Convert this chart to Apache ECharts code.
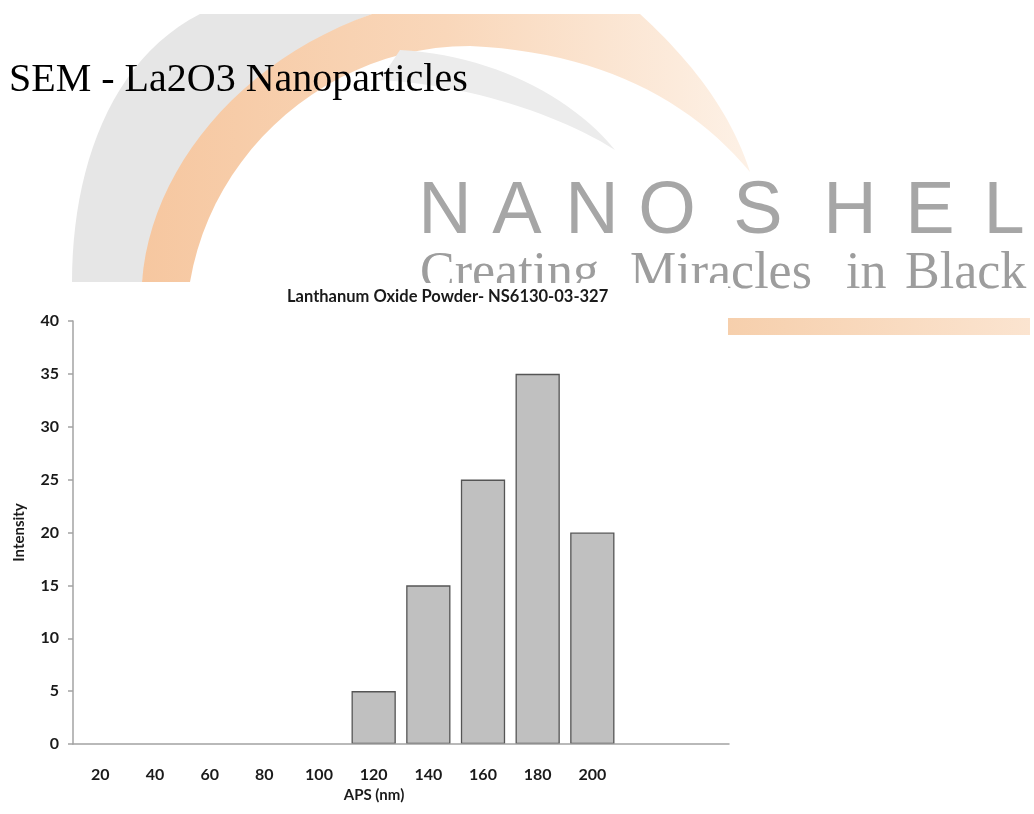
<!DOCTYPE html>
<html>
<head>
<meta charset="utf-8">
<script src="https://cdn.jsdelivr.net/npm/echarts@6/dist/echarts.min.js"></script>
<style>
  html, body { margin: 0; padding: 0; background: #ffffff; }
  #chart { width: 1034px; height: 814px; }
</style>
</head>
<body>
<div id="chart"></div>
<script>
// ---- data ----
const pageTitle = 'SEM - La2O3 Nanoparticles';
const chartTitle = 'Lanthanum Oxide Powder- NS6130-03-327';
const categories = ['20', '40', '60', '80', '100', '120', '140', '160', '180', '200', '', ''];
const intensity = [0, 0, 0, 0, 0, 5, 15, 25, 35, 20];
const xAxisName = 'APS (nm)';
const yAxisName = 'Intensity';
const yMin = 0, yMax = 40, yStep = 5;
const brandLetters = ['N', 'A', 'N', 'O', 'S', 'H', 'E', 'L'];
const taglineWords = ['Creating', 'Miracles', 'in', 'Black'];

// ---- watermark decoration (background) ----
// outline helper: sequence of cubic segments -> polygon points
function outline(start, segs) {
  const pts = [start];
  let p0 = start;
  segs.forEach(s => {
    if (s.length === 1) { pts.push(s[0]); p0 = s[0]; return; }
    const [c1, c2, p3] = s;
    for (let i = 1; i <= 24; i++) {
      const t = i / 24, u = 1 - t;
      pts.push([
        u*u*u*p0[0] + 3*u*u*t*c1[0] + 3*u*t*t*c2[0] + t*t*t*p3[0],
        u*u*u*p0[1] + 3*u*u*t*c1[1] + 3*u*t*t*c2[1] + t*t*t*p3[1]
      ]);
    }
    p0 = p3;
  });
  return pts;
}
const letterCenters = [445, 517, 592, 667, 758, 850, 930, 1004];
const wordLefts = [420, 630, 846, 905];
const bg = [];
bg.push({ type: 'polygon', z: 0, shape: { points: outline([72, 282], [
    [[72, 170], [110, 60], [200, 14]], [[372, 14]], [[250, 60], [160, 160], [142, 282]] ]) },
  style: { fill: '#e6e6e6' } });
bg.push({ type: 'polygon', z: 0, shape: { points: outline([372, 14], [
    [[640, 14]], [[690, 60], [730, 110], [750, 172]], [[690, 100], [600, 52], [470, 46]],
    [[330, 46], [212, 150], [190, 282]], [[142, 282]], [[150, 170], [240, 60], [372, 14]] ]) },
  style: { fill: { type: 'linear', x: 0, y: 0, x2: 1, y2: 0, colorStops: [
    { offset: 0, color: '#f6c7a0' }, { offset: 0.5, color: '#f9d7ba' }, { offset: 1, color: '#fdf1e6' } ] } } });
bg.push({ type: 'polygon', z: 0, shape: { points: outline([400, 50], [
    [[490, 55], [570, 95], [615, 150]], [[560, 115], [470, 85], [380, 80]] ]) },
  style: { fill: '#ececec' } });
brandLetters.forEach((ch, i) => {
  bg.push({ type: 'text', z: 0, x: letterCenters[i], y: 176,
    style: { text: ch, fill: '#a6a6a6', font: '74px "Liberation Sans"', align: 'center', verticalAlign: 'top' } });
});
taglineWords.forEach((w, i) => {
  bg.push({ type: 'text', z: 0, x: wordLefts[i], y: 248,
    style: { text: w, fill: '#9d9d9d', font: '52px "Liberation Serif"', align: 'left', verticalAlign: 'top' } });
});
bg.push({ type: 'rect', z: 0, shape: { x: 728, y: 318, width: 302, height: 17 },
  style: { fill: { type: 'linear', x: 0, y: 0, x2: 1, y2: 0, colorStops: [
    { offset: 0, color: '#f6cfac' }, { offset: 1, color: '#fbe4d0' } ] } } });
// white chart picture area
bg.push({ type: 'rect', z: 1, shape: { x: 0, y: 283, width: 728, height: 531 }, style: { fill: '#ffffff' } });

const seriesData = intensity.map(v => v === 0 ? { value: v, itemStyle: { borderWidth: 0 } } : v);

const chart = echarts.init(document.getElementById('chart'), null, { renderer: 'canvas' });
chart.setOption({
  animation: false,
  backgroundColor: '#ffffff',
  title: [
    { text: pageTitle, left: 4, top: 55, z: 6,
      textStyle: { fontFamily: '"Liberation Serif"', fontSize: 40, fontWeight: 'normal', color: '#000000' } },
    { text: chartTitle, left: 282, top: 283, z: 6,
      textStyle: { fontFamily: 'Lato', fontSize: 16.5, fontWeight: 'bold', color: '#1a1a1a' } }
  ],
  graphic: bg,
  grid: { left: 73, right: 305, top: 321, bottom: 70, containLabel: false },
  xAxis: {
    type: 'category', data: categories, z: 5,
    name: xAxisName, nameLocation: 'middle', nameGap: 44,
    nameTextStyle: { fontFamily: 'Lato', fontSize: 15, fontWeight: 'bold', color: '#1a1a1a', padding: [0, 54, 0, 0] },
    axisLine: { lineStyle: { color: '#a3a3a3', width: 1.5 } },
    axisTick: { show: false },
    axisLabel: { margin: 23, fontFamily: 'Lato', fontSize: 16, fontWeight: 'bold', color: '#1a1a1a', interval: 0 }
  },
  yAxis: {
    type: 'value', min: yMin, max: yMax, interval: yStep, z: 5,
    name: yAxisName, nameLocation: 'middle', nameGap: 46,
    nameTextStyle: { fontFamily: 'Lato', fontSize: 15, fontWeight: 'bold', color: '#1a1a1a' },
    axisLine: { show: true, lineStyle: { color: '#a3a3a3', width: 1.5 } },
    axisTick: { show: true, length: 5, lineStyle: { color: '#a3a3a3', width: 1.5 } },
    splitLine: { show: false },
    axisLabel: { margin: 14, fontFamily: 'Lato', fontSize: 16, fontWeight: 'bold', color: '#1a1a1a' }
  },
  series: [{
    type: 'bar', data: seriesData, barCategoryGap: '19%',
    itemStyle: { color: '#c0c0c0', borderColor: '#555555', borderWidth: 1.3 }
  }]
});
</script>
</body>
</html>
